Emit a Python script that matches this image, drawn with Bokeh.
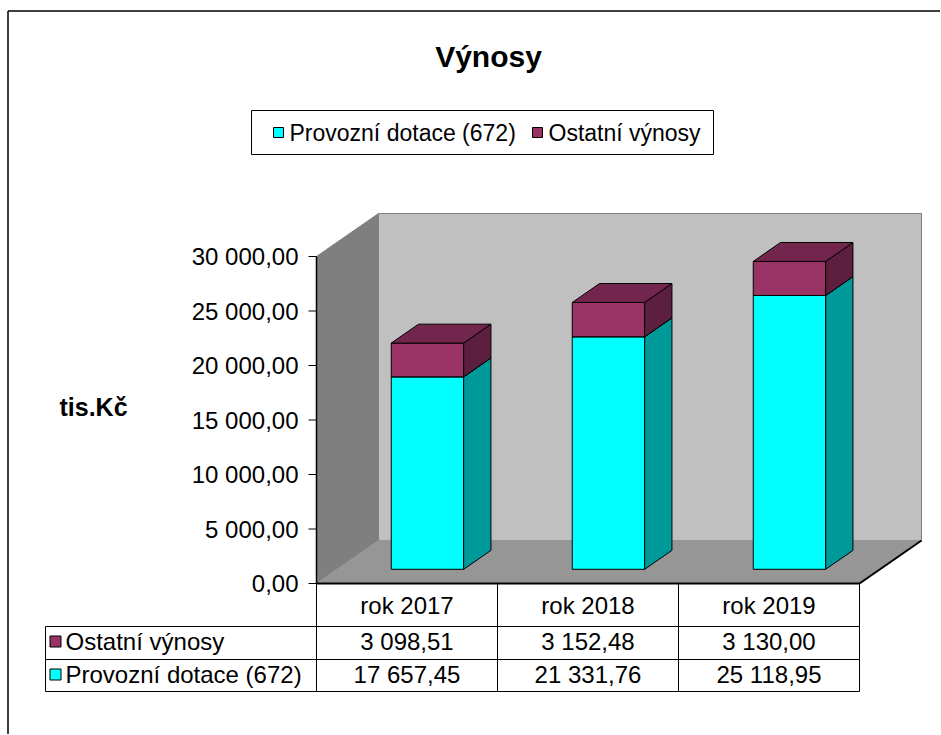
from bokeh.plotting import figure
from bokeh.models import Range1d
from bokeh.core.properties import value
from bokeh.embed import file_html
from bokeh.resources import INLINE

# ---------------- data ----------------
title = "Výnosy"
y_label = "tis.Kč"
categories = ["rok 2017", "rok 2018", "rok 2019"]
series_names = ["Provozní dotace (672)", "Ostatní výnosy"]
provozni = [17657.45, 21331.76, 25118.95]
ostatni = [3098.51, 3152.48, 3130.00]
y_ticks = [0, 5000, 10000, 15000, 20000, 25000, 30000]
y_max = 30000

front_colors = ["#00FFFF", "#993366"]
side_colors = ["#009999", "#5C1F3D"]
top_colors = ["#00CCCC", "#73264D"]

FONT = value("Liberation Sans")


def cz(v):
    s = f"{v:,.2f}"
    return s.replace(",", "\u00a0").replace(".", ",")


# ---------------- geometry (page pixels -> data) ----------------
PAGE0 = 0              # page offset of the canvas
W, H = 940, 734
ORIGIN_X, ORIGIN_Y = 316, 583          # page position of (cat 0, value 0) on the front plane
CAT_PX = 181.0                         # pixels per category
VAL_PX = 327.0 / y_max                 # pixels per value unit


def px(p):
    return (p - ORIGIN_X) / CAT_PX


def py(p):
    return (ORIGIN_Y - p) / VAL_PX


DX = 62 / CAT_PX       # full depth in data units
DY = 43 / VAL_PX
F1, F2 = 0.33, 0.77    # bar front / back depth fractions
BW = 0.40              # bar width in category units
NCAT = len(categories)


def off(pts, f):
    return [x + f * DX for x, _ in pts], [y + f * DY for _, y in pts]


p = figure(width=W, height=H, output_backend="svg", toolbar_location=None,
           x_range=Range1d(px(PAGE0), px(PAGE0 + W)), y_range=Range1d(py(PAGE0 + H), py(PAGE0)),
           x_axis_type=None, y_axis_type=None, min_border=0)
p.xgrid.visible = False
p.ygrid.visible = False
p.outline_line_color = None
p.background_fill_color = "white"
p.border_fill_color = "white"

# chart frame (left and top edges visible in the reference)
p.segment(x0=[px(7.5), px(7.5)], y0=[py(10.5), py(10.5)],
          x1=[px(7.5), px(PAGE0 + W)], y1=[py(PAGE0 + H), py(10.5)],
          line_color="black", line_width=1.5)

# ---------------- walls & floor ----------------
lw_x, lw_y = [0, 0, DX, DX], [0, y_max, y_max + DY, DY]
bw_x, bw_y = off([(0, 0), (NCAT, 0), (NCAT, y_max), (0, y_max)], 1.0)
fl_x, fl_y = [0, NCAT, NCAT + DX, DX], [0, 0, DY, DY]
p.patch(lw_x, lw_y, fill_color="#7F7F7F", line_color="#7F7F7F", line_width=1)
p.patch(bw_x, bw_y, fill_color="#C0C0C0", line_color="#808080", line_width=1)
p.patch(fl_x, fl_y, fill_color="#969696", line_color="#969696", line_width=1)
p.segment(x0=[0, NCAT], y0=[0, 0], x1=[NCAT, NCAT + DX], y1=[0, DY],
          line_color="black", line_width=2)

# ---------------- bars ----------------
xs, ys, fc = [], [], []
for i in range(NCAT):
    base = 0.0
    for s, vals in enumerate([provozni, ostatni]):
        top = base + vals[i]
        xl, xr = i + 0.5 - BW / 2, i + 0.5 + BW / 2
        fx, fy = off([(xl, base), (xr, base), (xr, top), (xl, top)], F1)
        sx1, sy1 = off([(xr, base), (xr, top)], F1)
        sx2, sy2 = off([(xr, top), (xr, base)], F2)
        tx1, ty1 = off([(xl, top), (xr, top)], F1)
        tx2, ty2 = off([(xr, top), (xl, top)], F2)
        xs += [fx, sx1 + sx2, tx1 + tx2]
        ys += [fy, sy1 + sy2, ty1 + ty2]
        fc += [front_colors[s], side_colors[s], top_colors[s]]
        base = top
p.patches(xs, ys, fill_color=fc, line_color="black", line_width=1)

# ---------------- value axis ----------------
p.segment(x0=[0], y0=[0], x1=[0], y1=[y_max], line_color="black", line_width=1.5)
p.segment(x0=[px(308)] * len(y_ticks), y0=y_ticks, x1=[0] * len(y_ticks), y1=y_ticks,
          line_color="black", line_width=1)
p.text(x=[px(298)] * len(y_ticks), y=y_ticks, text=[cz(t) for t in y_ticks],
       text_align="right", text_baseline="middle", text_font=FONT,
       text_font_size="24px", text_color="black")

# axis title and chart title
p.text(x=[px(93)], y=[py(406)], text=[y_label], text_align="center",
       text_baseline="middle", text_font=FONT, text_font_size="25px",
       text_font_style="bold", text_color="black")
p.text(x=[px(488)], y=[py(56)], text=[title], text_align="center",
       text_baseline="middle", text_font=FONT, text_font_size="30px",
       text_font_style="bold", text_color="black")

# ---------------- legend ----------------
p.quad(left=[px(251)], right=[px(713)], top=[py(110)], bottom=[py(154)],
       fill_color="white", line_color="black", line_width=1)
p.scatter(x=[px(278), px(537)], y=[py(132), py(132)], marker="square", size=10,
          fill_color=front_colors, line_color="black", line_width=1)
p.text(x=[px(289), px(548)], y=[py(132), py(132)], text=series_names,
       text_align="left", text_baseline="middle", text_font=FONT,
       text_font_size="23px", text_color="black")

# ---------------- data table ----------------
row_lines = [626, 659, 691]
p.segment(x0=[px(45)] * 3, y0=[py(r) for r in row_lines],
          x1=[NCAT] * 3, y1=[py(r) for r in row_lines], line_color="black", line_width=1)
p.segment(x0=list(range(NCAT + 1)) + [px(45)], y0=[0] * (NCAT + 1) + [py(626)],
          x1=list(range(NCAT + 1)) + [px(45)], y1=[py(691)] * (NCAT + 2),
          line_color="black", line_width=1)
cat_x = [i + 0.5 for i in range(NCAT)]
p.text(x=cat_x, y=[py(605)] * NCAT, text=categories, text_align="center",
       text_baseline="middle", text_font=FONT, text_font_size="24px", text_color="black")
p.text(x=cat_x, y=[py(641)] * NCAT, text=[cz(v) for v in ostatni], text_align="center",
       text_baseline="middle", text_font=FONT, text_font_size="24px", text_color="black")
p.text(x=cat_x, y=[py(674)] * NCAT, text=[cz(v) for v in provozni], text_align="center",
       text_baseline="middle", text_font=FONT, text_font_size="24px", text_color="black")
p.scatter(x=[px(55), px(55)], y=[py(641), py(674)], marker="square", size=11,
          fill_color=[front_colors[1], front_colors[0]], line_color="black", line_width=1)
p.text(x=[px(65), px(65)], y=[py(641), py(674)], text=[series_names[1], series_names[0]],
       text_align="left", text_baseline="middle", text_font=FONT,
       text_font_size="24px", text_color="black")

open("out.html", "w").write(file_html(p, INLINE))
